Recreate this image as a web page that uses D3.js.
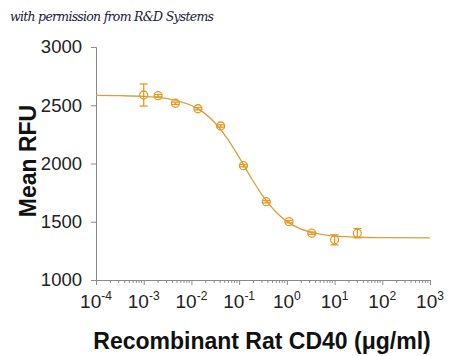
<!DOCTYPE html>
<html><head><meta charset="utf-8">
<script src="https://cdn.jsdelivr.net/npm/d3@7"></script>
<style>body{margin:0;background:#fff}svg{display:block}</style>
</head><body>
<svg id="c" width="450" height="356"></svg>
<script>
// Data
const concentrations = [0.001, 0.002, 0.0046, 0.0137, 0.041, 0.123, 0.37, 1.11, 3.33, 10, 30];
const meanRFU =        [2588, 2582, 2517, 2470, 2322, 1981, 1672, 1501, 1402, 1345, 1402];
const errRFU =         [95, 10, 10, 10, 10, 10, 10, 10, 10, 43, 40];
// fitted curve
const curveX = [1e-4, 3.16e-4, 1e-3, 3.16e-3, 5.6e-3, 1e-2, 1.78e-2, 3.16e-2, 5.62e-2, 0.1, 0.178, 0.316, 0.562, 1, 1.78, 3.16, 10, 31.6, 100, 1000];
const curveY = [2584, 2582, 2576, 2556, 2534, 2498, 2439, 2346, 2216, 2053, 1878, 1719, 1592, 1503, 1445, 1411, 1378, 1367, 1364, 1362];
const xTickExps = [-4, -3, -2, -1, 0, 1, 2, 3];
const yTicks = [1000, 1500, 2000, 2500, 3000];
const xTitle = "Recombinant Rat CD40 (\u03bcg/ml)";
const yTitle = "Mean RFU";
const credit = "with permission from R&D Systems";

const svg = d3.select("#c");
const x = d3.scaleLog().domain([1e-4, 1e3]).range([96, 430]);
const y = d3.scaleLinear().domain([1000, 3000]).range([280, 47]);
const axisCol = "#8a8a8a", markCol = "#E59A25", lineCol = "#D9A043";

// credit
svg.append("text").attr("x", 10).attr("y", 21)
  .attr("font-family", "DejaVu Serif").attr("font-style", "italic")
  .attr("font-size", 12.5).attr("fill", "#20203a").attr("textLength", 204)
  .text(credit);

// y axis
const ya = svg.append("g").attr("transform", "translate(96,0)")
  .call(d3.axisLeft(y).tickValues(yTicks).tickSize(5).tickPadding(9).tickFormat(d3.format("d")));
ya.select(".domain").attr("stroke", axisCol);
ya.selectAll(".tick line").attr("stroke", axisCol);
ya.selectAll(".tick text").attr("font-family", "Liberation Sans").attr("font-size", 18.5).attr("fill", "#222");

// x axis
const xa = svg.append("g").attr("transform", "translate(0,280)");
const minor = [];
for (let e = -4; e < 3; e++) for (let k = 2; k <= 9; k++) minor.push(k * Math.pow(10, e));
xa.call(d3.axisBottom(x).tickValues(xTickExps.map(e => Math.pow(10, e))).tickSize(5).tickFormat(""));
xa.select(".domain").attr("stroke", axisCol);
xa.selectAll(".tick line").attr("stroke", axisCol);
xa.selectAll(".minor").data(minor).enter().append("line").attr("class", "minor")
  .attr("x1", d => x(d)).attr("x2", d => x(d)).attr("y1", 0).attr("y2", 3).attr("stroke", axisCol);
const xl = xa.selectAll(".xl").data(xTickExps).enter().append("text").attr("class", "xl")
  .attr("x", d => x(Math.pow(10, d))).attr("y", 28).attr("text-anchor", "middle")
  .attr("font-family", "Liberation Sans").attr("font-size", 19).attr("fill", "#222");
xl.append("tspan").text("10");
xl.append("tspan").attr("dy", -8).attr("font-size", 12).text(d => String(d));

// curve
svg.append("path").datum(curveX.map((d, i) => [d, curveY[i]]))
  .attr("fill", "none").attr("stroke", lineCol).attr("stroke-width", 1.3)
  .attr("d", d3.line().x(d => x(d[0])).y(d => y(d[1])).curve(d3.curveMonotoneX));

// error bars and points
const pts = concentrations.map((c, i) => ({c, v: meanRFU[i], e: errRFU[i]}));
const g = svg.append("g").attr("stroke", markCol).attr("stroke-width", 1.3).attr("fill", "none");
pts.forEach(p => {
  const cx = x(p.c);
  g.append("line").attr("x1", cx).attr("x2", cx).attr("y1", y(p.v + p.e)).attr("y2", y(p.v - p.e));
  g.append("line").attr("x1", cx - 4).attr("x2", cx + 4).attr("y1", y(p.v + p.e)).attr("y2", y(p.v + p.e));
  g.append("line").attr("x1", cx - 4).attr("x2", cx + 4).attr("y1", y(p.v - p.e)).attr("y2", y(p.v - p.e));
  g.append("circle").attr("cx", cx).attr("cy", y(p.v)).attr("r", 4);
});

// titles
svg.append("text").attr("x", 262).attr("y", 349).attr("text-anchor", "middle")
  .attr("font-family", "Liberation Sans").attr("font-weight", "bold").attr("font-size", 23)
  .attr("fill", "#111").text(xTitle);
svg.append("text").attr("transform", "translate(36,161) rotate(-90)").attr("text-anchor", "middle")
  .attr("font-family", "Liberation Sans").attr("font-weight", "bold").attr("font-size", 23)
  .attr("fill", "#111").text(yTitle);
</script>
</body></html>
